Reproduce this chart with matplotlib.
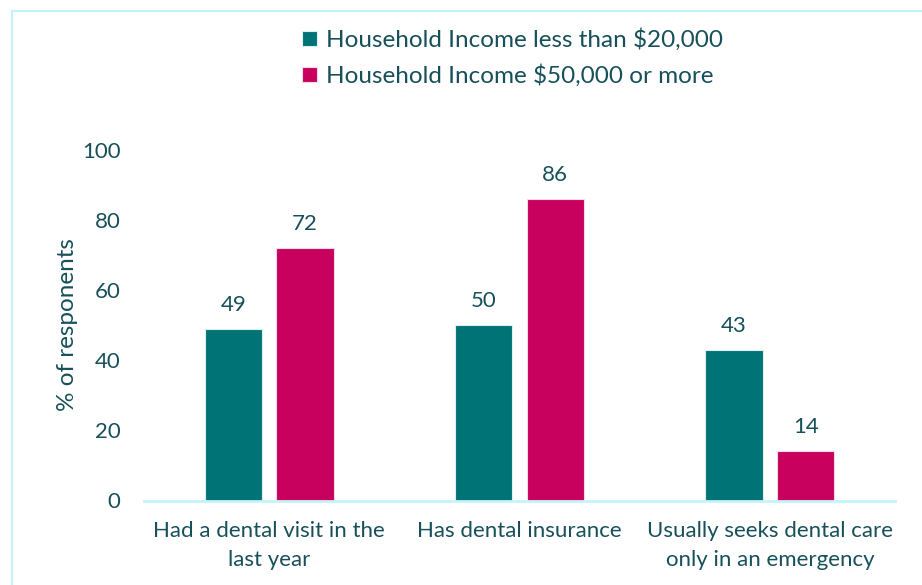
import numpy as np
import matplotlib
matplotlib.use("agg")
import matplotlib.pyplot as plt
from matplotlib.patches import Rectangle

categories = ["Had a dental visit in the\nlast year", "Has dental insurance",
              "Usually seeks dental care\nonly in an emergency"]
low_income = [49, 50, 43]
high_income = [72, 86, 14]
series_names = ["Household Income less than $20,000", "Household Income $50,000 or more"]
yticks = [0, 20, 40, 60, 80, 100]

teal = "#007377"
magenta = "#C8005E"
text_col = "#17505A"
line_col = "#C6F3FA"

plt.rcParams["font.family"] = ["Lato", "DejaVu Sans"]

W, H = 922, 585
fig = plt.figure(figsize=(W / 100, H / 100), dpi=100)
ax = fig.add_axes([144 / W, 1 - 500.5 / H, 751 / W, 351 / H])

x = np.arange(len(categories))
bw = 0.228
off = 0.143
b1 = ax.bar(x - off, low_income, bw, color=teal, edgecolor="#DDEFF0", linewidth=0.8, label=series_names[0])
b2 = ax.bar(x + off, high_income, bw, color=magenta, edgecolor="#F6D8E6", linewidth=0.8, label=series_names[1])

for bars, vals in [(b1, low_income), (b2, high_income)]:
    for r, v in zip(bars, vals):
        ax.annotate(str(v), (r.get_x() + r.get_width() / 2, v), xytext=(0, 10),
                    textcoords="offset points", ha="center", va="bottom",
                    fontsize=16, color=text_col)

ax.set_xlim(-0.5, 2.5)
ax.set_ylim(0, 100)
ax.set_yticks(yticks)
ax.set_xticks(x)
ax.set_xticklabels(categories, fontsize=16, color=text_col, linespacing=1.55)
ax.tick_params(axis="y", length=0, pad=17, labelsize=16, labelcolor=text_col)
ax.tick_params(axis="x", length=0, pad=15)
for s in ["top", "right", "left"]:
    ax.spines[s].set_visible(False)
ax.spines["bottom"].set_color(line_col)
ax.spines["bottom"].set_linewidth(2)
ax.set_ylabel("% of responents", fontsize=17.5, color=text_col, labelpad=3)

fig.legend(handles=[b1, b2], loc="upper left", bbox_to_anchor=(290 / W, 1 - 16 / H),
           frameon=False, fontsize=17.5, labelcolor=text_col, handlelength=0.6,
           handleheight=0.6, handletextpad=0.4, labelspacing=0.55, borderpad=0)

# light frame round the figure
fig.patches.append(Rectangle((12 / W, -0.1), 1.2, 1 - 11 / H + 0.1, transform=fig.transFigure,
                             fill=False, edgecolor=line_col, linewidth=1.5))

fig.savefig("out.png", dpi=100)
